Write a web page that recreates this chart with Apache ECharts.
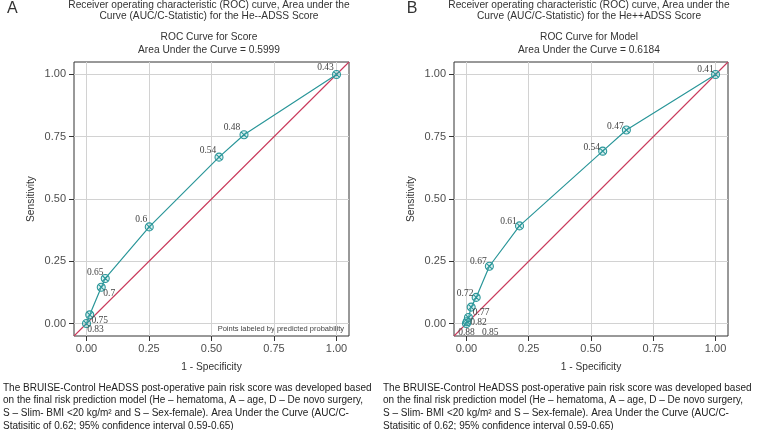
<!DOCTYPE html>
<html><head><meta charset="utf-8">
<script src="https://cdn.jsdelivr.net/npm/echarts@6/dist/echarts.min.js"></script>
<style>html,body{margin:0;padding:0;background:#fff}#c{width:759px;height:430px}</style>
</head><body><div id="c"></div>
<script>
// ---- data ----
const fprA = [0, 0.013, 0.059, 0.075, 0.251, 0.530, 0.630, 1];
const tprA = [0, 0.035, 0.146, 0.181, 0.388, 0.668, 0.758, 1];
const probA = ['0.83', '0.75', '0.7', '0.65', '0.6', '0.54', '0.48', '0.43'];
const fprB = [0, 0.003, 0.008, 0.019, 0.039, 0.092, 0.213, 0.547, 0.642, 1];
const tprB = [0, 0.008, 0.024, 0.066, 0.105, 0.230, 0.392, 0.692, 0.777, 1];
const probB = ['0.88', '0.85', '0.82', '0.77', '0.72', '0.67', '0.61', '0.54', '0.47', '0.41'];
const tickValues = [0, 0.25, 0.5, 0.75, 1];
const tickLabels = ['0.00', '0.25', '0.50', '0.75', '1.00'];
const axisRange = [-0.05, 1.05];
const diagonal = [[axisRange[0], axisRange[0]], [axisRange[1], axisRange[1]]];

// ---- styles (label offsets in px) ----
const offA = [[9, 6], [10, 6], [8, 6], [-10, -6], [-8, -7], [-11, -7], [-12, -7], [-11, -7]];
const offB = [[0, 9], [23, 11], [10, 5], [10, 5], [-11, -4], [-11, -5], [-11, -4], [-11, -4], [-11, -4], [-10, -5]];

const TEAL = '#2a9699';
const RED = '#c93a5c';
const FONT = '"Liberation Sans", Arial, sans-serif';
const MARKER = 'path://M0,5 A5,5 0 1,1 10,5 A5,5 0 1,1 0,5 Z M1.6,1.6 L8.4,8.4 M8.4,1.6 L1.6,8.4';

function axisCfg(gi, name, isY) {
  return {
    type: 'value', gridIndex: gi, min: axisRange[0], max: axisRange[1],
    name: name, nameLocation: 'middle', nameGap: isY ? 38 : 26,
    nameTextStyle: { fontFamily: FONT, fontSize: 10.2, color: '#333' },
    axisLine: { show: false, onZero: false },
    axisTick: { show: true, length: 5, customValues: tickValues, lineStyle: { color: '#333', width: 1 } },
    axisLabel: { customValues: tickValues, fontFamily: FONT, fontSize: 11, color: '#4d4d4d', margin: isY ? 8 : 7,
      formatter: v => tickLabels[tickValues.indexOf(v)] },
    splitLine: { show: true, lineStyle: { color: '#d2d2d2', width: 1 } }
  };
}

function rocSeries(gi, fpr, tpr, prob, off) {
  return {
    type: 'line', xAxisIndex: gi, yAxisIndex: gi, z: 3,
    data: fpr.map((x, i) => ({
      value: [x, tpr[i]],
      label: { offset: off[i] }
    })),
    lineStyle: { color: TEAL, width: 1.2 },
    symbol: MARKER, symbolSize: 8,
    itemStyle: { color: 'rgba(140,210,210,0.3)', borderColor: TEAL, borderWidth: 1.1 },
    label: { show: true, position: 'inside', fontFamily: '"Liberation Serif", serif', fontSize: 9.5, color: '#444',
      formatter: p => prob[p.dataIndex] },
    animation: false
  };
}

function diagSeries(gi) {
  return {
    type: 'line', xAxisIndex: gi, yAxisIndex: gi, z: 2, data: diagonal, symbol: 'none',
    lineStyle: { color: RED, width: 1.1 }, animation: false, silent: true
  };
}

function txt(x, y, s, size, opts) {
  return Object.assign({ type: 'text', x: x, y: y, style: Object.assign({ text: s, fontFamily: FONT, fontSize: size,
    fill: '#333', align: 'center', verticalAlign: 'middle' }, opts || {}) });
}

const captionLines = [
  'The BRUISE-Control HeADSS post-operative pain risk score was developed based',
  'on the final risk prediction model (He \u2013 hematoma, A \u2013 age, D \u2013 De novo surgery,',
  'S \u2013 Slim- BMI <20 kg/m\u00b2 and S \u2013 Sex-female). Area Under the Curve (AUC/C-',
  'Statisitic of 0.62; 95% confidence interval 0.59-0.65)'
];

const graphics = [
  txt(7, 9, 'A', 16, { align: 'left' }),
  txt(412, 9, 'B', 16, { align: 'center' }),
  txt(209, 5, 'Receiver operating characteristic (ROC) curve, Area under the', 10.2),
  txt(209, 16, 'Curve (AUC/C-Statistic) for the He--ADSS Score', 10.2),
  txt(209, 37, 'ROC Curve for Score', 10.2),
  txt(209, 50, 'Area Under the Curve = 0.5999', 10.2),
  txt(589, 5, 'Receiver operating characteristic (ROC) curve, Area under the', 10.2),
  txt(589, 16, 'Curve (AUC/C-Statistic) for the He++ADSS Score', 10.2),
  txt(589, 37, 'ROC Curve for Model', 10.2),
  txt(589, 50, 'Area Under the Curve = 0.6184', 10.2),
  txt(344, 329, 'Points labeled by predicted probability', 7.5, { align: 'right', fill: '#444' })
];
captionLines.forEach((l, i) => {
  graphics.push(txt(3, 388 + i * 12.7, l, 10, { align: 'left', fill: '#222' }));
  graphics.push(txt(383, 388 + i * 12.7, l, 10, { align: 'left', fill: '#222' }));
});

const chart = echarts.init(document.getElementById('c'), null, { renderer: 'canvas' });
chart.setOption({
  backgroundColor: '#fff',
  animation: false,
  grid: [
    { left: 74, top: 62, width: 275, height: 274, show: true, borderColor: '#333', borderWidth: 1, backgroundColor: 'transparent' },
    { left: 454, top: 62, width: 274, height: 274, show: true, borderColor: '#333', borderWidth: 1, backgroundColor: 'transparent' }
  ],
  xAxis: [axisCfg(0, '1 - Specificity', false), axisCfg(1, '1 - Specificity', false)],
  yAxis: [axisCfg(0, 'Sensitivity', true), axisCfg(1, 'Sensitivity', true)],
  series: [
    diagSeries(0), rocSeries(0, fprA, tprA, probA, offA),
    diagSeries(1), rocSeries(1, fprB, tprB, probB, offB)
  ],
  graphic: graphics
});
</script></body></html>
